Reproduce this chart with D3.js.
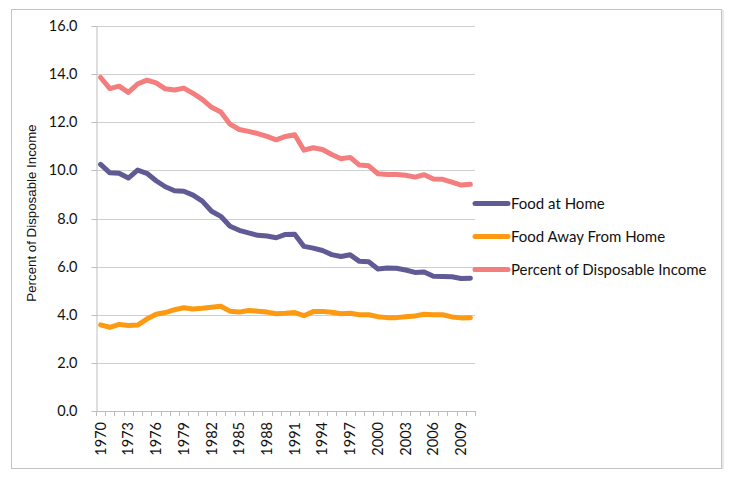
<!DOCTYPE html>
<html><head><meta charset="utf-8">
<script src="https://cdn.jsdelivr.net/npm/d3@7"></script>
<style>body{margin:0;background:#fff}svg{display:block}</style>
</head><body><svg id="c" width="732" height="477"></svg>
<script>
const years = d3.range(1970, 2011);
const foodAtHome = [10.25,9.9,9.88,9.68,10.01,9.88,9.57,9.32,9.15,9.13,8.97,8.72,8.3,8.09,7.68,7.51,7.4,7.3,7.27,7.2,7.34,7.35,6.84,6.77,6.67,6.5,6.42,6.49,6.22,6.2,5.9,5.94,5.93,5.86,5.76,5.78,5.6,5.59,5.58,5.51,5.52];
const foodAway = [3.58,3.48,3.6,3.55,3.57,3.82,4.02,4.09,4.21,4.29,4.24,4.27,4.31,4.35,4.15,4.11,4.18,4.15,4.11,4.04,4.06,4.09,3.96,4.13,4.14,4.1,4.04,4.06,4.0,4.0,3.92,3.88,3.88,3.92,3.95,4.02,4.0,4.0,3.91,3.87,3.88];
const percentIncome = [13.86,13.4,13.5,13.24,13.59,13.75,13.64,13.39,13.34,13.42,13.2,12.95,12.62,12.43,11.92,11.7,11.62,11.53,11.41,11.27,11.41,11.48,10.84,10.94,10.87,10.66,10.48,10.54,10.22,10.19,9.86,9.83,9.83,9.8,9.72,9.82,9.64,9.63,9.51,9.39,9.42];
const yTicks = [0,2,4,6,8,10,12,14,16];
const xLabelYears = d3.range(1970, 2011, 3);
const seriesNames = ["Food at Home","Food Away From Home","Percent of Disposable Income"];
const seriesValues = [foodAtHome, foodAway, percentIncome];
const colors = ["#605B95","#FD9A12","#F47D7D"];

const svg = d3.select("#c");
// outer frame
svg.append("rect").attr("x",11.5).attr("y",9.5).attr("width",710).attr("height",459)
  .attr("fill","#fff").attr("stroke","#C4C4C4");
svg.append("line").attr("x1",723).attr("x2",723).attr("y1",10).attr("y2",469).attr("stroke","#E2E2E2").attr("stroke-width",1.5);

const x = d3.scaleBand().domain(years).range([96,475]).padding(0);
const y = d3.scaleLinear().domain([0,16]).range([411,26]);
const cx = d => x(d) + x.bandwidth()/2;

// gridlines
svg.append("g").selectAll("line").data(yTicks.filter(t=>t>0)).join("line")
  .attr("x1",96).attr("x2",475).attr("y1",d=>Math.round(y(d))+0.5).attr("y2",d=>Math.round(y(d))+0.5)
  .attr("stroke","#CFCFCF");

// y axis
const yAxis = svg.append("g").attr("transform","translate(96.5,0)")
  .call(d3.axisLeft(y).tickValues(yTicks).tickFormat(d3.format(".1f")).tickSizeInner(5).tickSizeOuter(0).tickPadding(14));
yAxis.select(".domain").attr("stroke","#BDBDBD");
yAxis.selectAll(".tick line").attr("stroke","#BDBDBD");
yAxis.selectAll(".tick text").attr("font-family","Lato, 'Open Sans', sans-serif").attr("font-size","14.5px").attr("fill","#111");
yAxis.selectAll(".tick").attr("transform", d=>`translate(0,${Math.round(y(d))+0.5})`);

// x axis line + boundary ticks
const xg = svg.append("g");
xg.append("line").attr("x1",96).attr("x2",475).attr("y1",411.5).attr("y2",411.5).attr("stroke","#BDBDBD");
const bounds = years.map(d=>x(d)).concat([x(2010)+x.bandwidth()]);
xg.selectAll("line.t").data(bounds).join("line").attr("class","t")
  .attr("x1",d=>Math.round(d)+0.5).attr("x2",d=>Math.round(d)+0.5).attr("y1",411).attr("y2",416)
  .attr("stroke","#BDBDBD");
xg.selectAll("text").data(xLabelYears).join("text")
  .attr("transform",d=>`translate(${cx(d)+5},422) rotate(-90)`)
  .attr("text-anchor","end")
  .attr("font-family","Lato, 'Open Sans', sans-serif").attr("font-size","14.5px").attr("fill","#111")
  .text(d=>d);

// y title
svg.append("text").attr("transform","translate(36,213) rotate(-90)").attr("text-anchor","middle")
  .attr("font-family","'Liberation Sans', Arial, sans-serif").attr("font-size","13.3px").attr("fill","#111")
  .text("Percent of Disposable Income");

// lines
const line = d3.line().x((d,i)=>cx(years[i])).y(d=>y(d)).curve(d3.curveLinear);
seriesValues.forEach((vals,k)=>{
  svg.append("path").datum(vals).attr("d",line).attr("fill","none")
    .attr("stroke",colors[k]).attr("stroke-width",5).attr("stroke-linejoin","round").attr("stroke-linecap","round");
});

// legend
const legY = [203.5,236.5,269.5];
seriesNames.forEach((n,k)=>{
  svg.append("line").attr("x1",475).attr("x2",508).attr("y1",legY[k]).attr("y2",legY[k])
    .attr("stroke",colors[k]).attr("stroke-width",5).attr("stroke-linecap","round");
  svg.append("text").attr("x",511).attr("y",legY[k]+5.5)
    .attr("font-family","Lato, 'Open Sans', sans-serif").attr("font-size","15px").attr("fill","#111")
    .text(n);
});
</script></body></html>
